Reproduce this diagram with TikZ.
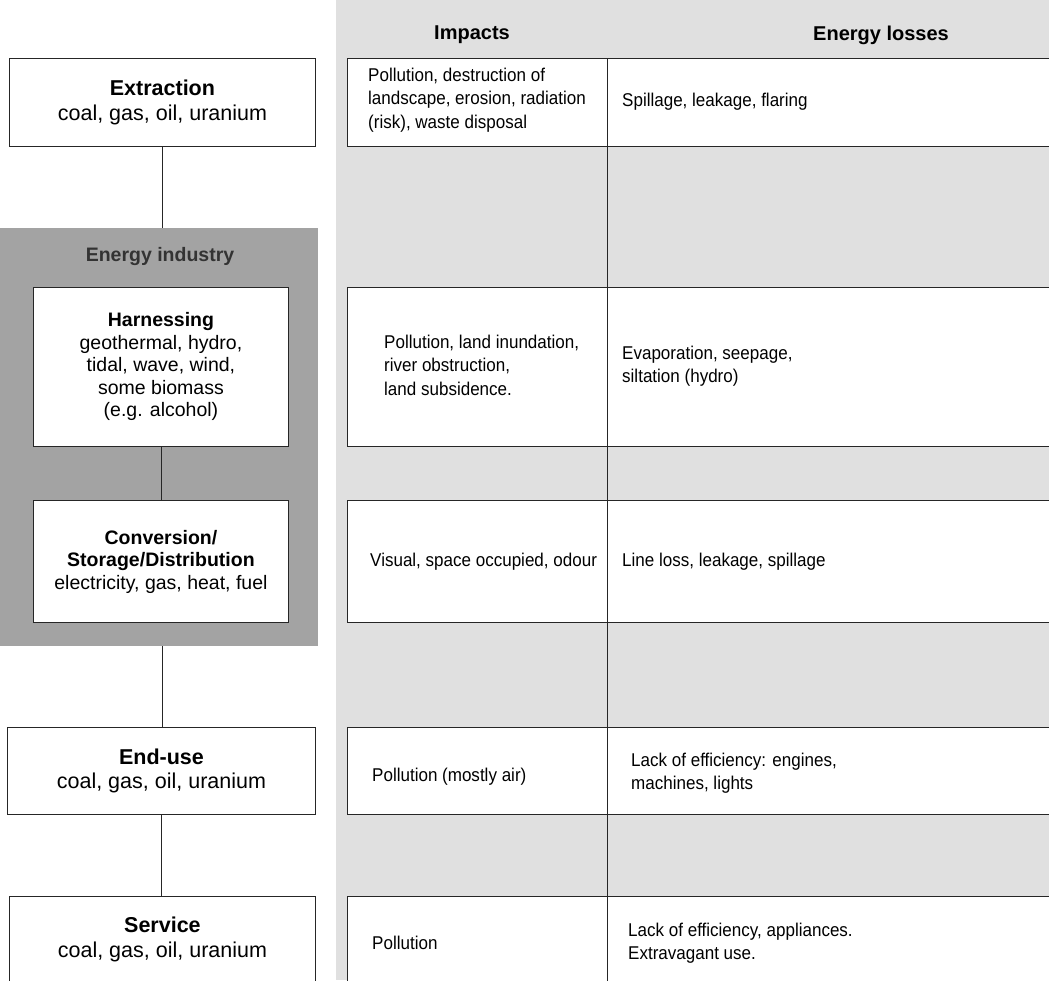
\documentclass[tikz,border=0pt]{standalone}
\usepackage{fontspec}
\setmainfont{Liberation Sans}
\newfontfamily\tabfont[FakeStretch=0.92]{Liberation Sans}
\begin{document}
\begin{tikzpicture}[x=1pt,y=-1pt,
  rule/.style={draw=black!85,line width=0.9pt},
  lbox/.style={rule,fill=white,inner sep=0pt,anchor=north west,align=center,
    font=\fontsize{21.5}{24.5}\selectfont},
  ibox/.style={rule,fill=white,inner sep=0pt,anchor=north west,align=center,
    font=\fontsize{19.5}{22.5}\selectfont},
  panel/.style={fill=black!36,inner sep=0pt,anchor=north west},
  cellbg/.style={fill=white,inner sep=0pt,anchor=north west},
  ttext/.style={anchor=west,align=left,inner sep=0pt,
    font=\tabfont\fontsize{18.5}{23.5}\selectfont},
  head/.style={inner sep=0pt,font=\fontsize{20}{23}\selectfont\bfseries}
]
\useasboundingbox (0,0) rectangle (1049,980);
\clip (0,0) rectangle (1049,980);
% stippled background of the table
\fill[black!12] (336,0) rectangle (1049,980);

% headers
\node[head] (hImp) at (472,35) {Impacts};
\node[head] (hLoss) at (881,35) {Energy losses};

% ---------- left column ----------
\node[lbox,minimum width=306pt,minimum height=88pt] (ext) at (9,58)
  {\textbf{Extraction}\\coal, gas, oil, uranium};
\node[panel,minimum width=318pt,minimum height=418pt] (panel) at (0,228) {};
\node[inner sep=0pt,text=black!80,font=\fontsize{19.5}{23}\selectfont\bfseries] (ei) at (160,256) {Energy industry};
\node[ibox,minimum width=255pt,minimum height=159pt] (harn) at (33,287)
  {\textbf{Harnessing}\\geothermal, hydro,\\tidal, wave, wind,\\some biomass\\(e.g. alcohol)};
\node[ibox,minimum width=255pt,minimum height=122pt] (conv) at (33,500)
  {\textbf{Conversion/}\\\textbf{Storage/Distribution}\\electricity, gas, heat, fuel};
\node[lbox,minimum width=308pt,minimum height=87pt] (end) at (7,727)
  {\textbf{End-use}\\coal, gas, oil, uranium};
\node[lbox,minimum width=306pt,minimum height=86pt] (serv) at (9,896)
  {\textbf{Service}\\coal, gas, oil, uranium};

\draw[rule] (ext.south) -- (ext.south |- panel.north);
\draw[rule] (harn.south) -- (conv.north);
\draw[rule] (ext.south |- panel.south) -- (ext.south |- end.north);
\draw[rule] (end.south) -- (end.south |- serv.north);

% ---------- table ----------
\node[cellbg,minimum width=260pt,minimum height=88pt] (i1) at (347,58) {};
\node[cellbg,minimum width=446pt,minimum height=88pt] (l1) at (607,58) {};
\node[cellbg,minimum width=260pt,minimum height=159pt] (i2) at (347,287) {};
\node[cellbg,minimum width=446pt,minimum height=159pt] (l2) at (607,287) {};
\node[cellbg,minimum width=260pt,minimum height=122pt] (i3) at (347,500) {};
\node[cellbg,minimum width=446pt,minimum height=122pt] (l3) at (607,500) {};
\node[cellbg,minimum width=260pt,minimum height=87pt] (i4) at (347,727) {};
\node[cellbg,minimum width=446pt,minimum height=87pt] (l4) at (607,727) {};
\node[cellbg,minimum width=260pt,minimum height=88pt] (i5) at (347,896) {};
\node[cellbg,minimum width=446pt,minimum height=88pt] (l5) at (607,896) {};

\foreach \r in {1,...,5}{
  \draw[rule] (l\r.north east) -- (i\r.north west) -- (i\r.south west) -- (l\r.south east);
}
\draw[rule] (l1.north west) -- (l5.south west);

% table texts
\node[ttext] (t1a) at (368,100) {Pollution, destruction of\\landscape, erosion, radiation\\(risk), waste disposal};
\node[ttext] (t1b) at (622,102) {Spillage, leakage, flaring};
\node[ttext] (t2a) at (384,365) {Pollution, land inundation,\\river obstruction,\\land subsidence.};
\node[ttext] (t2b) at (622,366) {Evaporation, seepage,\\siltation (hydro)};
\node[ttext] (t3a) at (370,562) {Visual, space occupied, odour};
\node[ttext] (t3b) at (622,562) {Line loss, leakage, spillage};
\node[ttext] (t4a) at (372,777) {Pollution (mostly air)};
\node[ttext] (t4b) at (631,773) {Lack of efficiency: engines,\\machines, lights};
\node[ttext] (t5a) at (372,943) {Pollution};
\node[ttext] (t5b) at (628,943) {Lack of efficiency, appliances.\\Extravagant use.};
\end{tikzpicture}
\end{document}
